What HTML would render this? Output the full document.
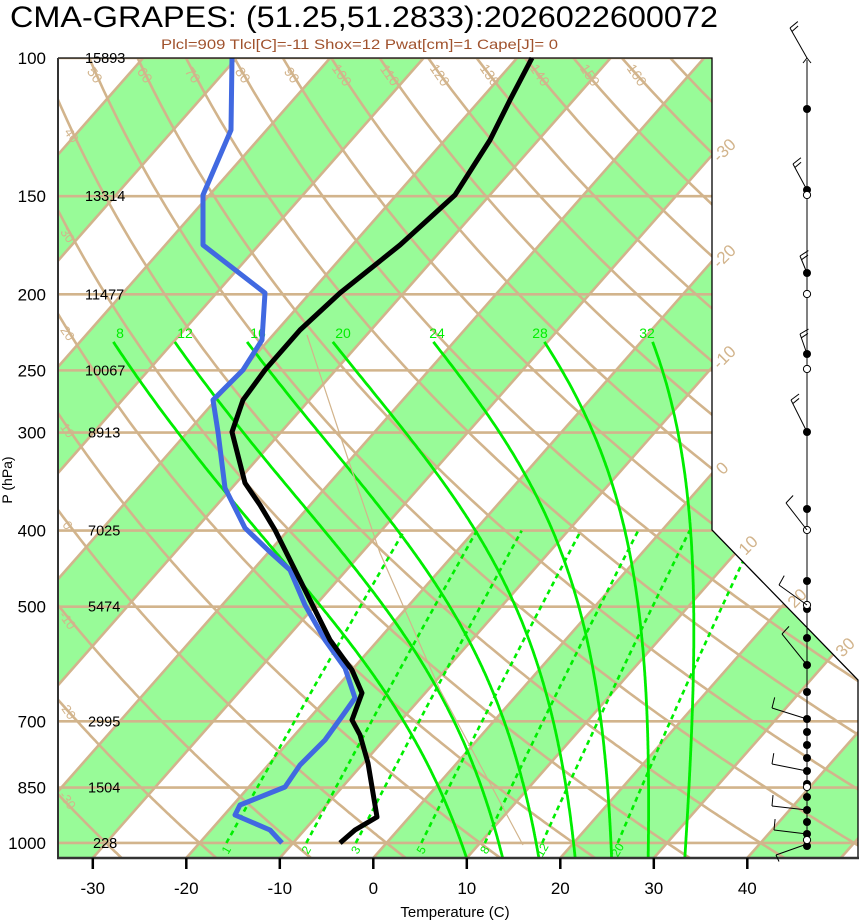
<!DOCTYPE html>
<html><head><meta charset="utf-8"><style>
html,body{margin:0;padding:0;background:#fff;}
svg{display:block;font-family:"Liberation Sans",sans-serif;}
</style></head><body>
<svg id="s" xmlns="http://www.w3.org/2000/svg" width="860" height="921" viewBox="0 0 860 921">
<defs><clipPath id="cp"><polygon points="58,58 712,58 712,530 858,680 858,858 58,858"/></clipPath></defs>
<g id="bg" clip-path="url(#cp)"></g>
<g id="fg"></g>
<text x="10" y="27" font-size="30" textLength="708" lengthAdjust="spacingAndGlyphs">CMA-GRAPES: (51.25,51.2833):2026022600072</text>
<text x="161" y="49" font-size="14" fill="#A0522D" textLength="397" lengthAdjust="spacingAndGlyphs">Plcl=909 Tlcl[C]=-11 Shox=12 Pwat[cm]=1 Cape[J]= 0</text>
</svg>
<script>
var NS="http://www.w3.org/2000/svg";
function el(parent,tag,attrs,txt){var e=document.createElementNS(NS,tag);for(var k in attrs)e.setAttribute(k,attrs[k]);if(txt!==undefined)e.textContent=txt;parent.appendChild(e);return e;}
var bg=document.getElementById('bg'),fg=document.getElementById('fg');
function Y(p){return 58+340.9*Math.log(p/100);}
function X(T,y){return 373.3+9.35*T+0.881*(858-y);}
var TAN="#D2B48C",GRN="#00EE00";
for(var T=-200;T<=60;T+=20){
 var a=X(T,858),b=X(T+10,858),c=X(T+10,58),d=X(T,58);
 el(bg,'polygon',{points:a+',858 '+b+',858 '+c+',58 '+d+',58',fill:'#98FB98'});
}
for(var T=-200;T<=60;T+=10){
 el(bg,'line',{x1:X(T,858),y1:858,x2:X(T,58),y2:58,stroke:TAN,'stroke-width':2.6});
}
[100,150,200,250,300,400,500,700,850,1000].forEach(function(p){var y=Y(p);el(bg,'line',{x1:58,y1:y,x2:860,y2:y,stroke:TAN,'stroke-width':2.6});});
for(var th=-60;th<=220;th+=10){
 var pts=[];for(var p=1060;p>=95;p-=5){var Tk=(th+273.15)*Math.pow(p/1000,0.2857)-273.15;var y=Y(p);pts.push(X(Tk,y).toFixed(1)+','+y.toFixed(1));}
 el(bg,'polyline',{points:pts.join(' '),fill:'none',stroke:TAN,'stroke-width':2.6});
}
function esf(Tc){return 6.112*Math.exp(17.67*Tc/(Tc+243.5));}
function Tfromes(e){var l=Math.log(e/6.112);return 243.5*l/(17.67-l);}
[1,2,3,5,8,12,20].forEach(function(w){
 var pts=[];for(var p=1000;p>=400;p-=10){var e=w*p/(622+w);var y=Y(p);pts.push(X(Tfromes(e),y).toFixed(1)+','+y.toFixed(1));}
 el(bg,'polyline',{points:pts.join(' '),fill:'none',stroke:GRN,'stroke-width':2.6,'stroke-dasharray':'5 4'});
 var e0=w*1000/(622+w),x0=X(Tfromes(e0),843);
 el(bg,'text',{x:x0,y:854,'font-size':12,fill:GRN,'text-anchor':'middle',transform:'rotate(-60 '+x0+' 850)'},String(w));
});
function dTdp(T,p){var e=esf(T-273.15);var rs=0.622*e/(p-e);return (287*T+2.5e6*rs)/(p*(1005+2.5e6*2.5e6*rs*0.622/(287*T*T)));}
var mlx={8:120,12:185,16:258,20:343,24:437,28:540,32:647};
[8,12,16,20,24,28,32].forEach(function(T0){
 var up=[],T=T0+273.15,p=1000;
 while(p>231){up.push([p,T]);var k1=dTdp(T,p),dp=-2;var k2=dTdp(T+k1*dp,p+dp);T+=0.5*(k1+k2)*dp;p+=dp;}
 up.push([p,T]);
 var dn=[];T=T0+273.15;p=1000;
 while(p<1060){var k1=dTdp(T,p),dp=2;var k2=dTdp(T+k1*dp,p+dp);T+=0.5*(k1+k2)*dp;p+=dp;dn.push([p,T]);}
 var all=dn.reverse().concat(up);
 var pts=all.map(function(q){var y=Y(q[0]);return X(q[1]-273.15,y).toFixed(1)+','+y.toFixed(1);});
 el(bg,'polyline',{points:pts.join(' '),fill:'none',stroke:GRN,'stroke-width':2.8});
 el(fg,'text',{x:mlx[T0],y:338,'font-size':14,fill:GRN,'text-anchor':'middle'},String(T0));
});
el(bg,'polyline',{points:'307,335 345,450 380,553 440,690 523,845',fill:'none',stroke:TAN,'stroke-width':1.2});
[[50,95],[60,145],[70,193],[80,243],[90,292],[100,342],[110,390],[120,440],[130,490],[140,540],[150,590],[160,637]].forEach(function(a){
 el(fg,'text',{x:a[1],y:80,'font-size':14,fill:TAN,'text-anchor':'middle',transform:'rotate(55 '+a[1]+' 75)'},String(a[0]));});
[[40,72,135],[30,68,235],[20,68,333],[10,68,430],[0,68,525],[-10,68,620],[-20,68,710],[-30,68,800]].forEach(function(a){
 el(fg,'text',{x:a[1],y:a[2]+5,'font-size':13,fill:TAN,'text-anchor':'middle',transform:'rotate(55 '+a[1]+' '+a[2]+')'},String(a[0]));});
[[-30,724,150],[-20,724,256],[-10,724,357],[0,722,468],[10,748,545],[20,797,598],[30,845,647]].forEach(function(a){
 el(fg,'text',{x:a[1],y:a[2]+6,'font-size':17,fill:TAN,'text-anchor':'middle',transform:'rotate(-45 '+a[1]+' '+a[2]+')'},String(a[0]));});
el(fg,'polyline',{points:'232,58 231,130 203,195 203,245 265,293 262,340 243,370 213,400 218,432 225,488 245,528 270,552 290,570 305,605 325,640 345,668 355,698 343,715 325,740 300,765 285,787 240,805 235,815 270,830 282,843',fill:'none',stroke:'#4169E1','stroke-width':5,'stroke-linejoin':'round'});
el(fg,'polyline',{points:'532,58 510,100 490,140 455,195 400,245 340,293 300,330 265,370 243,400 232,432 245,483 260,505 275,530 295,570 315,610 330,640 343,658 352,670 362,693 352,720 360,735 368,763 377,817 355,830 340,843',fill:'none',stroke:'#000','stroke-width':5,'stroke-linejoin':'round'});
el(fg,'polyline',{points:'58,58 712,58 712,530 858,680 858,858',fill:'none',stroke:'#000','stroke-width':1.3});
el(fg,'line',{x1:58,y1:58,x2:58,y2:858,stroke:'#333','stroke-width':2});
el(fg,'line',{x1:57,y1:858,x2:859,y2:858,stroke:'#333','stroke-width':2.5});
for(var t=-30;t<=40;t+=10){var x=373.3+9.35*t;el(fg,'line',{x1:x,y1:858,x2:x,y2:869,stroke:'#000','stroke-width':2.5});
 el(fg,'text',{x:x,y:894,'font-size':17,'text-anchor':'middle'},String(t));}
el(fg,'text',{x:455,y:917,'font-size':15,'text-anchor':'middle'},'Temperature (C)');
el(fg,'text',{x:12,y:480,'font-size':14,'text-anchor':'middle',transform:'rotate(-90 12 480)'},'P (hPa)');
var hts={100:'15893',150:'13314',200:'11477',250:'10067',300:'8913',400:'7025',500:'5474',700:'2995',850:'1504',1000:'228'};
[100,150,200,250,300,400,500,700,850,1000].forEach(function(p){var y=Y(p);
 el(fg,'text',{x:46,y:y+6,'font-size':17,'text-anchor':'end'},String(p));
 el(fg,'text',{x:p==1000?93:(hts[p].length==5?85:88),y:y+5,'font-size':14.5},hts[p]);});
var bx=807;
el(fg,'line',{x1:bx,y1:60,x2:bx,y2:845,stroke:'#000','stroke-width':1});
el(fg,'polyline',{points:'803,63 807,58 811,63',fill:'none',stroke:'#000','stroke-width':1});
var dots=[109,190,273,354,432,509,581,609,638,665,692,719,732,745,758,771,784,797,810,822,834,846];
dots.forEach(function(y){el(fg,'circle',{cx:bx,cy:y,r:4,fill:'#000'});});
[195,294,369,530,605,787,840].forEach(function(y){el(fg,'circle',{cx:bx,cy:y,r:3.6,fill:'#fff',stroke:'#000','stroke-width':1});});
var barbs=[[58,790,28],[190,793,164],[273,800,256],[354,800,334],[432,791,400],[530,786,503],[605,779,585],[665,782,634],[719,772,708],[771,772,764],[810,772,806],[834,774,830],[844,776,855]];
barbs.forEach(function(b){
 el(fg,'line',{x1:bx,y1:b[0],x2:b[1],y2:b[2],stroke:'#000','stroke-width':1});
 var dx=b[1]-bx,dy=b[2]-b[0],L=Math.sqrt(dx*dx+dy*dy),ux=dx/L,uy=dy/L,nx=uy,ny=-ux;
 if(nx<0){nx=-nx;ny=-ny;}
 el(fg,'line',{x1:b[1],y1:b[2],x2:b[1]+nx*9,y2:b[2]+ny*9-2,stroke:'#000','stroke-width':1});
 if(b[0]<450)el(fg,'line',{x1:b[1]-ux*4,y1:b[2]-uy*4,x2:b[1]-ux*4+nx*7,y2:b[2]-uy*4+ny*7-2,stroke:'#000','stroke-width':1});
});
</script>
</body></html>
